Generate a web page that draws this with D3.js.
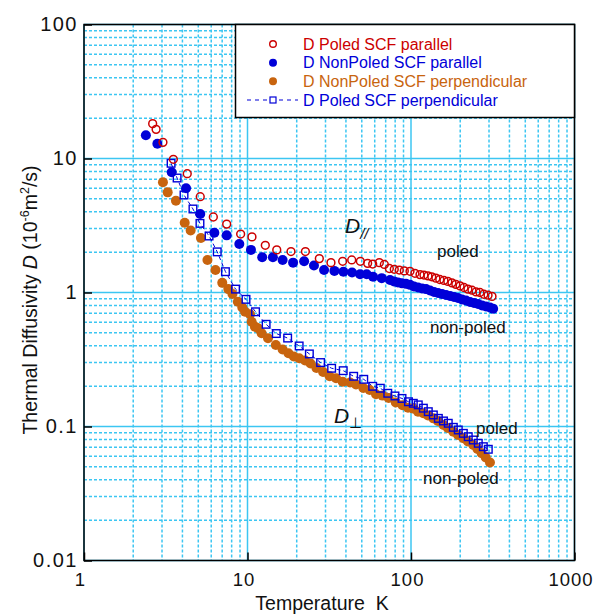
<!DOCTYPE html>
<html>
<head>
<meta charset="utf-8">
<script src="https://cdn.jsdelivr.net/npm/d3@7"></script>
<style>
  body { margin: 0; background: #fff; }
  svg { font-family: "Liberation Sans", Arial, sans-serif; }
</style>
</head>
<body>
<svg id="chart" width="595" height="614"></svg>
<script>
// Poled SCF parallel (red open circles)
const tPoledPar = [2.63, 2.76, 3.04, 3.52, 4.28, 5.14, 6.18, 7.46, 9.08, 10.65, 12.85, 15.1, 18.45, 22.6, 27.5, 32.4, 38.2, 43.4, 49.0, 54.3, 58.3, 64.0, 68.7, 73.7, 79.0, 84.8, 91.0, 98.6, 105.7, 113.5, 120, 127, 134, 142, 150, 159, 168, 178, 188, 199.5, 211, 223, 236, 250, 264, 279, 296, 313];
const dPoledPar = [18.2, 16.5, 13.2, 9.86, 7.7, 5.19, 3.66, 3.24, 2.73, 2.60, 2.25, 2.08, 2.02, 2.02, 1.79, 1.67, 1.71, 1.75, 1.71, 1.65, 1.63, 1.67, 1.62, 1.51, 1.49, 1.47, 1.45, 1.44, 1.39, 1.36, 1.35, 1.33, 1.31, 1.28, 1.25, 1.23, 1.21, 1.18, 1.15, 1.12, 1.09, 1.06, 1.04, 1.01, 1.00, 0.97, 0.955, 0.935];

// NonPoled SCF parallel (blue dots)
const tNonPar = [2.39, 2.81, 3.44, 4.21, 5.14, 6.27, 7.46, 8.91, 10.5, 12.3, 14.3, 16.4, 19.0, 22.2, 25.5, 29.4, 34.0, 38.6, 43.6, 48.8, 53.6, 58.6, 66.2, 74.4, 78.7, 83.2, 88.1, 93.2, 98.6, 104.3, 110.4, 116.8, 123.6, 130.7, 138.3, 146.3, 154.8, 163.8, 173.3, 183.3, 193.8, 205, 217, 229.5, 243, 257, 272, 287.5, 304, 318];
const dNonPar = [14.9, 12.9, 7.89, 5.99, 3.85, 2.79, 2.67, 2.30, 2.08, 1.83, 1.83, 1.75, 1.67, 1.71, 1.59, 1.47, 1.45, 1.43, 1.41, 1.37, 1.37, 1.31, 1.28, 1.24, 1.21, 1.19, 1.17, 1.16, 1.14, 1.11, 1.09, 1.07, 1.06, 1.035, 1.01, 0.99, 0.975, 0.958, 0.942, 0.926, 0.91, 0.887, 0.871, 0.849, 0.835, 0.821, 0.80, 0.786, 0.773, 0.757];

// NonPoled SCF perpendicular (orange dots)
const tNonPerp = [3.04, 3.25, 3.65, 4.13, 4.49, 5.19, 5.69, 6.37, 7.01, 7.63, 8.09, 8.73, 9.29, 9.66, 10.36, 10.6, 11.1, 11.6, 12.2, 13.35, 14.9, 16.4, 17.8, 19.2, 20.7, 22.5, 24.3, 26.4, 29.0, 31.8, 34.8, 38.2, 42.4, 46.1, 51.1, 55.9, 61.1, 67.0, 73.0, 80.7, 88.7, 95.9, 103.3, 110.4, 119, 127, 137, 146, 158, 168, 181.5, 194, 209, 223, 240.5, 255, 270.5, 286.5, 304];
const dNonPerp = [6.64, 5.59, 4.84, 3.32, 2.90, 2.55, 1.75, 1.47, 1.18, 1.06, 0.975, 0.854, 0.773, 0.719, 0.689, 0.605, 0.556, 0.541, 0.496, 0.455, 0.406, 0.376, 0.352, 0.333, 0.323, 0.311, 0.295, 0.273, 0.255, 0.237, 0.229, 0.216, 0.213, 0.206, 0.194, 0.187, 0.174, 0.170, 0.163, 0.151, 0.144, 0.138, 0.136, 0.129, 0.1255, 0.121, 0.115, 0.110, 0.1026, 0.0975, 0.0915, 0.0864, 0.0816, 0.0773, 0.0728, 0.0679, 0.0631, 0.0587, 0.0539];

// Poled SCF perpendicular (blue open squares, dashed)
const tPoledPerp = [3.41, 3.71, 4.09, 4.64, 5.12, 5.82, 6.53, 7.33, 8.45, 9.79, 11.2, 13.0, 15.0, 17.6, 20.7, 23.9, 28.0, 32.7, 38.5, 44.6, 51.4, 58.3, 64.9, 72.1, 79.8, 88.1, 96.5, 103.3, 110.8, 119, 127.6, 137, 147, 158, 169, 181.5, 194.6, 209, 224, 240.5, 258, 277, 297];
const dPoledPerp = [9.21, 7.15, 5.34, 4.20, 3.28, 2.64, 2.01, 1.43, 1.06, 0.889, 0.718, 0.579, 0.494, 0.457, 0.399, 0.348, 0.300, 0.272, 0.261, 0.237, 0.225, 0.1995, 0.193, 0.177, 0.169, 0.162, 0.153, 0.149, 0.145, 0.137, 0.129, 0.122, 0.115, 0.110, 0.1057, 0.0986, 0.0942, 0.0889, 0.0839, 0.0793, 0.0749, 0.0707, 0.0676];

const xTicks = [1, 10, 100, 1000];
const yTicks = [0.01, 0.1, 1, 10, 100];
const yTickLabels = ["0.01", "0.1", "1", "10", "100"];
const legendLabels = ["D Poled SCF parallel", "D NonPoled SCF parallel", "D NonPoled SCF perpendicular", "D Poled SCF perpendicular"];

const RED = "#cc0000", BLUE = "#0000d8", ORANGE = "#c8640e", GRID = "#3cc6f2";

const svg = d3.select("#chart");
const x = d3.scaleLog().domain([1, 1000]).range([84, 574.5]);
const y = d3.scaleLog().domain([0.01, 100]).range([560.5, 24.5]);

const zip = (ts, ds) => ts.map((t, i) => ({t: t, d: ds[i]}));

// grid: solid at decades, dashed at 2..9
const minor = [];
for (let e = 0; e < 3; e++) for (let m = 2; m <= 9; m++) minor.push(m * Math.pow(10, e));
const minorY = [];
for (let e = -2; e < 2; e++) for (let m = 2; m <= 9; m++) minorY.push(m * Math.pow(10, e));

const grid = svg.append("g");
grid.selectAll(".vmin").data(minor).enter().append("line")
    .attr("x1", d => x(d)).attr("x2", d => x(d)).attr("y1", y(100)).attr("y2", y(0.01))
    .attr("stroke", GRID).attr("stroke-width", 1.5).attr("stroke-dasharray", "3,2");
grid.selectAll(".hmin").data(minorY).enter().append("line")
    .attr("x1", x(1)).attr("x2", x(1000)).attr("y1", d => y(d)).attr("y2", d => y(d))
    .attr("stroke", GRID).attr("stroke-width", 1.5).attr("stroke-dasharray", "3,2");
grid.selectAll(".vmaj").data(xTicks).enter().append("line")
    .attr("x1", d => x(d)).attr("x2", d => x(d)).attr("y1", y(100)).attr("y2", y(0.01))
    .attr("stroke", GRID).attr("stroke-width", 1.5);
grid.selectAll(".hmaj").data(yTicks).enter().append("line")
    .attr("x1", x(1)).attr("x2", x(1000)).attr("y1", d => y(d)).attr("y2", d => y(d))
    .attr("stroke", GRID).attr("stroke-width", 1.5);

// dashed line for the poled perpendicular series
const line = d3.line().x(d => x(d.t)).y(d => y(d.d));
svg.append("path").datum(zip(tPoledPerp, dPoledPerp))
    .attr("d", line).attr("fill", "none")
    .attr("stroke", BLUE).attr("stroke-width", 1).attr("stroke-dasharray", "4,3");

// orange dots
svg.append("g").selectAll("circle").data(zip(tNonPerp, dNonPerp)).enter().append("circle")
    .attr("cx", d => x(d.t)).attr("cy", d => y(d.d)).attr("r", 5).attr("fill", ORANGE);

// blue squares
svg.append("g").selectAll("rect").data(zip(tPoledPerp, dPoledPerp)).enter().append("rect")
    .attr("x", d => x(d.t) - 3.8).attr("y", d => y(d.d) - 3.8).attr("width", 7.6).attr("height", 7.6)
    .attr("fill", "none").attr("stroke", BLUE).attr("stroke-width", 1.4);

// blue dots
svg.append("g").selectAll("circle").data(zip(tNonPar, dNonPar)).enter().append("circle")
    .attr("cx", d => x(d.t)).attr("cy", d => y(d.d)).attr("r", 5).attr("fill", BLUE);

// red open circles
svg.append("g").selectAll("circle").data(zip(tPoledPar, dPoledPar)).enter().append("circle")
    .attr("cx", d => x(d.t)).attr("cy", d => y(d.d)).attr("r", 3.9)
    .attr("fill", "none").attr("stroke", RED).attr("stroke-width", 1.5);

// frame and ticks
svg.append("rect").attr("x", x(1)).attr("y", y(100))
    .attr("width", x(1000) - x(1)).attr("height", y(0.01) - y(100))
    .attr("fill", "none").attr("stroke", "#000").attr("stroke-width", 1.5);

const axB = d3.axisBottom(x).tickValues(xTicks).tickSize(-8).tickSizeOuter(0).tickPadding(12).tickFormat(d3.format("d"));
const axL = d3.axisLeft(y).tickValues(yTicks).tickSize(-8).tickSizeOuter(0).tickPadding(6)
    .tickFormat((d, i) => yTickLabels[i]);
const gx = svg.append("g").attr("transform", `translate(0,${y(0.01)})`).call(axB);
const gy = svg.append("g").attr("transform", `translate(${x(1)},0)`).call(axL);
[gx, gy].forEach(g => {
    g.select(".domain").remove();
    g.selectAll("line").attr("stroke", "#000").attr("stroke-width", 1.5);
    g.selectAll("text").attr("fill", "#111")
        .attr("font-family", "'Liberation Sans', Arial, sans-serif");
});
gx.selectAll("text").attr("font-size", 18.5).attr("letter-spacing", 1).attr("dx", -4);
gy.selectAll("text").attr("font-size", 20).attr("letter-spacing", 1.5);

// axis titles
svg.append("text").attr("x", 322).attr("y", 610).attr("text-anchor", "middle")
    .attr("font-size", 19.5).attr("fill", "#111").text("Temperature\u00a0\u00a0K");

const yt = svg.append("text").attr("transform", "translate(37,300) rotate(-90)")
    .attr("text-anchor", "middle").attr("font-size", 19.5).attr("fill", "#111");
yt.append("tspan").text("Thermal Diffusivity ");
yt.append("tspan").attr("font-style", "italic").text("D");
yt.append("tspan").text(" (10");
yt.append("tspan").attr("font-size", 12.5).attr("dy", -8).text("-6");
yt.append("tspan").attr("dy", 8).text("m");
yt.append("tspan").attr("font-size", 12.5).attr("dy", -8).text("2");
yt.append("tspan").attr("dy", 8).text("/s)");

// legend
const lg = svg.append("g");
lg.append("rect").attr("x", 235.5).attr("y", 24.5).attr("width", 339).attr("height", 93)
    .attr("fill", "#fff").attr("stroke", "#000").attr("stroke-width", 1.5);
const legendColors = [RED, BLUE, ORANGE, BLUE];
const rowY = d3.scalePoint().domain(d3.range(4)).range([44, 100]);
legendLabels.forEach((lab, i) => {
    const yy = rowY(i);
    if (i === 0) lg.append("circle").attr("cx", 273).attr("cy", yy).attr("r", 3.3)
        .attr("fill", "none").attr("stroke", RED).attr("stroke-width", 1.4);
    if (i === 1 || i === 2) lg.append("circle").attr("cx", 273).attr("cy", yy).attr("r", 4)
        .attr("fill", legendColors[i]);
    if (i === 3) {
        lg.append("line").attr("x1", 247).attr("x2", 298).attr("y1", yy).attr("y2", yy)
            .attr("stroke", BLUE).attr("stroke-width", 1.2).attr("stroke-dasharray", "4,4");
        lg.append("rect").attr("x", 270).attr("y", yy - 3).attr("width", 6).attr("height", 6)
            .attr("fill", "#fff").attr("stroke", BLUE).attr("stroke-width", 1.2);
    }
    lg.append("text").attr("x", 303).attr("y", yy + 5.5).attr("font-size", 16)
        .attr("fill", legendColors[i]).text(lab);
});

// annotations
const ann = svg.append("g").attr("fill", "#111");
const dpar = ann.append("text").attr("x", 345).attr("y", 233).attr("font-size", 21);
dpar.append("tspan").attr("font-style", "italic").text("D");
dpar.append("tspan").attr("font-style", "italic").attr("font-size", 15).attr("dy", 6).text("//");
ann.append("text").attr("x", 437).attr("y", 257).attr("font-size", 17).text("poled");
ann.append("text").attr("x", 430).attr("y", 333).attr("font-size", 17).text("non-poled");
const dperp = ann.append("text").attr("x", 334).attr("y", 423).attr("font-size", 21);
dperp.append("tspan").attr("font-style", "italic").text("D");
dperp.append("tspan").attr("font-size", 15).attr("dy", 5).text("\u22a5");
ann.append("text").attr("x", 476).attr("y", 434).attr("font-size", 17).text("poled");
ann.append("text").attr("x", 423).attr("y", 484).attr("font-size", 17).text("non-poled");
</script>
</body>
</html>
